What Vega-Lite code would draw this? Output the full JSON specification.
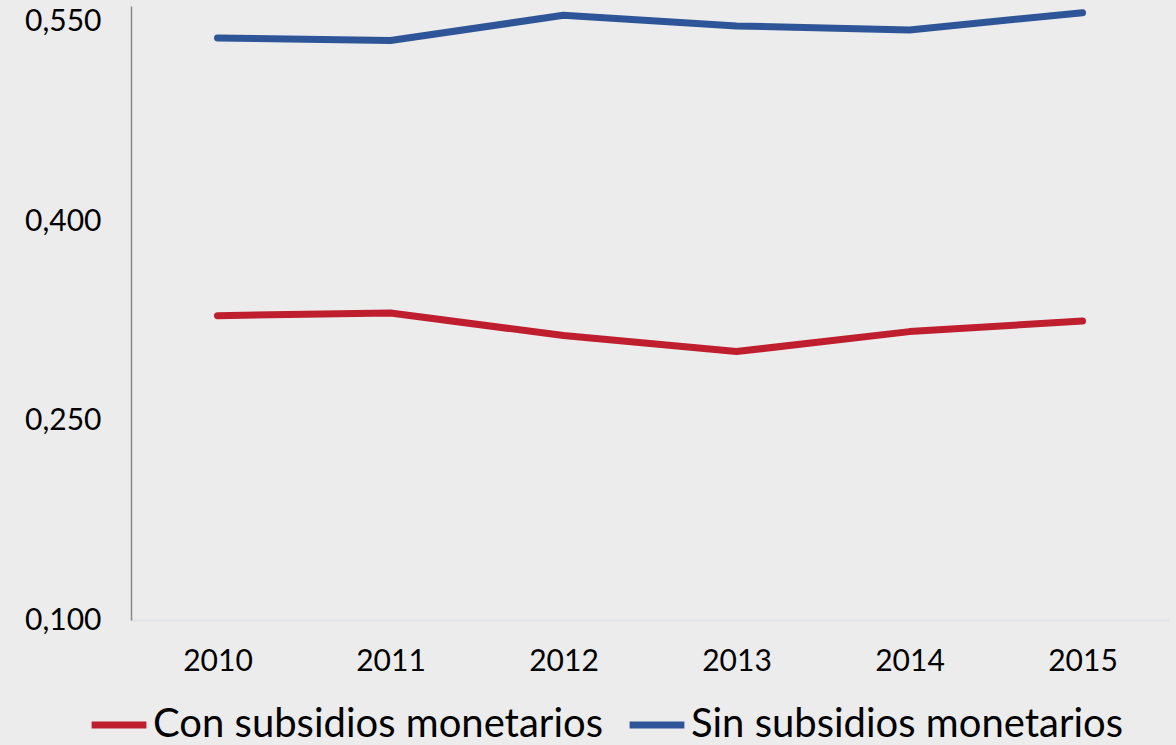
{
  "$schema": "https://vega.github.io/schema/vega-lite/v6.json",
  "width": 1038,
  "height": 614,
  "autosize": "none",
  "padding": {"left": 131, "top": 6, "right": 7, "bottom": 125},
  "background": "#ececec",
  "config": {
    "view": {"stroke": null},
    "font": "Lato",
    "locale": {"number": {"decimal": ",", "thousands": ".", "grouping": [3], "currency": ["$", ""]}}
  },
  "data": {
    "values": [
      {"year": "2010", "serie": "Con subsidios monetarios", "gini": 0.329},
      {"year": "2011", "serie": "Con subsidios monetarios", "gini": 0.331},
      {"year": "2012", "serie": "Con subsidios monetarios", "gini": 0.314},
      {"year": "2013", "serie": "Con subsidios monetarios", "gini": 0.302},
      {"year": "2014", "serie": "Con subsidios monetarios", "gini": 0.317},
      {"year": "2015", "serie": "Con subsidios monetarios", "gini": 0.325},
      {"year": "2010", "serie": "Sin subsidios monetarios", "gini": 0.538},
      {"year": "2011", "serie": "Sin subsidios monetarios", "gini": 0.536},
      {"year": "2012", "serie": "Sin subsidios monetarios", "gini": 0.555},
      {"year": "2013", "serie": "Sin subsidios monetarios", "gini": 0.547},
      {"year": "2014", "serie": "Sin subsidios monetarios", "gini": 0.544},
      {"year": "2015", "serie": "Sin subsidios monetarios", "gini": 0.557}
    ]
  },
  "mark": {"type": "line", "strokeWidth": 7, "strokeCap": "round", "strokeJoin": "round"},
  "encoding": {
    "x": {
      "field": "year",
      "type": "ordinal",
      "scale": {"type": "point", "padding": 0.5},
      "axis": {
        "title": null,
        "labelAngle": 0,
        "labelFontSize": 30,
        "labelColor": "#000000",
        "labelPadding": 26,
        "ticks": false,
        "domainColor": "#dde3ea",
        "domainWidth": 2
      }
    },
    "y": {
      "field": "gini",
      "type": "quantitative",
      "scale": {"domain": [0.1, 0.562], "nice": false, "zero": false},
      "axis": {
        "title": null,
        "values": [0.1, 0.25, 0.4, 0.55],
        "format": ".3f",
        "labelFontSize": 30,
        "labelColor": "#000000",
        "labelPadding": 30,
        "ticks": false,
        "grid": false,
        "domainColor": "#888888",
        "domainWidth": 1.5
      }
    },
    "color": {
      "field": "serie",
      "type": "nominal",
      "scale": {"domain": ["Con subsidios monetarios", "Sin subsidios monetarios"], "range": ["#be1e2d", "#2e5597"]},
      "legend": {
        "title": null,
        "orient": "none",
        "direction": "horizontal",
        "legendX": -43,
        "legendY": 688,
        "symbolType": "stroke",
        "symbolSize": 3000,
        "symbolStrokeWidth": 7,
        "labelFontSize": 40,
        "labelColor": "#000000",
        "labelOffset": 3,
        "columnPadding": 12,
        "labelLimit": 600
      }
    }
  }
}
